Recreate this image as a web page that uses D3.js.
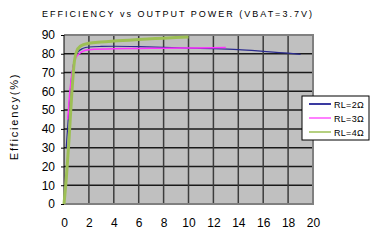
<!DOCTYPE html>
<html>
<head>
<meta charset="utf-8">
<script src="https://cdn.jsdelivr.net/npm/d3@7"></script>
<style>
  body { margin: 0; background: #fff; }
  text { font-family: "Liberation Sans", Arial, sans-serif; }
</style>
</head>
<body>
<div id="chart"></div>
<script>
// data
var xTicks = [0, 2, 4, 6, 8, 10, 12, 14, 16, 18, 20]
var yTicks = [0, 10, 20, 30, 40, 50, 60, 70, 80, 90]
var seriesNames = ['RL=2Ω', 'RL=3Ω', 'RL=4Ω']

var rl2 = [[0.18, 30], [0.35, 46], [0.5, 60], [0.7, 72], [0.9, 78], [1.1, 80.8], [1.5, 82.8], [2, 83.6],
  [3, 83.9], [4, 84], [6, 83.8], [8, 83.4], [10, 83], [12, 82.7], [14, 82.2], [16, 81.3], [18, 80.3], [19, 79.7]]
var rl3 = [[0.3, 45], [0.5, 62], [0.7, 72], [1, 78.5], [1.5, 81.3], [2, 82.2], [4, 82.7],
  [6, 82.8], [8, 83], [10, 83.1], [12, 83.2], [13, 83.3]]
var rl4 = [[0, 0], [0.2, 15], [0.4, 34], [0.6, 56], [0.8, 74], [1, 81], [1.3, 84], [2, 85.6],
  [3, 86.3], [4, 86.8], [6, 87.6], [8, 88.3], [10, 89]]

var colors = ['#2b2b8f', '#ff33ff', '#9dbf55']
var widths = [1.2, 1.5, 3]

var margin = { top: 35, right: 78, bottom: 44, left: 64 }
var width = 391 - margin.left - margin.right
var height = 248 - margin.top - margin.bottom

var x = d3.scaleLinear().domain([0, 20]).range([0, width])
var y = d3.scaleLinear().domain([0, 90]).range([height, 0])

var svg = d3.select('#chart').append('svg')
    .attr('width', 391)
    .attr('height', 248)

// title
svg.append('text')
    .attr('x', 178)
    .attr('y', 17)
    .style('text-anchor', 'middle')
    .style('font-size', '9px')
    .style('letter-spacing', '2px')
    .text('EFFICIENCY vs OUTPUT POWER (VBAT=3.7V)')

// y label
svg.append('text')
    .attr('transform', 'translate(18,' + (margin.top + height / 2 - 3) + ') rotate(-90)')
    .style('text-anchor', 'middle')
    .style('font-size', '11px')
    .style('letter-spacing', '1.8px')
    .text('Efficiency(%)')

var g = svg.append('g')
    .attr('transform', 'translate(' + margin.left + ',' + margin.top + ')')

g.append('rect')
    .attr('width', width)
    .attr('height', height)
    .style('fill', '#c0c0c0')

// grid
g.selectAll('.hgrid').data(yTicks.slice(1))
  .enter().append('line')
    .attr('x1', 0).attr('x2', width)
    .attr('y1', function (d) { return y(d) })
    .attr('y2', function (d) { return y(d) })
    .style('stroke', '#1a1a1a')
    .style('stroke-width', 1.5)
g.selectAll('.vgrid').data(xTicks.slice(1, -1))
  .enter().append('line')
    .attr('y1', 0).attr('y2', height)
    .attr('x1', function (d) { return x(d) })
    .attr('x2', function (d) { return x(d) })
    .style('stroke', '#3c3c3c')
    .style('stroke-width', 1.5)

// frame
g.append('path')
    .attr('d', 'M0,0H' + width + 'V' + height + 'H0')
    .style('fill', 'none')
    .style('stroke', '#808080')
    .style('stroke-width', 2)
g.append('line')
    .attr('x1', 0).attr('x2', 0).attr('y1', 0).attr('y2', height)
    .style('stroke', '#000')

// axes
var yAxis = g.append('g')
    .call(d3.axisLeft(y).tickValues(yTicks).tickSize(3).tickSizeOuter(0).tickPadding(6))
yAxis.select('.domain').remove()
yAxis.selectAll('text').style('font-size', '12px').style('fill', '#000')

var xAxis = g.append('g')
    .attr('transform', 'translate(0,' + height + ')')
    .call(d3.axisBottom(x).tickValues(xTicks).tickSize(0).tickPadding(14))
xAxis.select('.domain').remove()
xAxis.selectAll('text').style('font-size', '12px').style('fill', '#000')

// lines
var line = d3.line()
    .x(function (d) { return x(d[0]) })
    .y(function (d) { return y(d[1]) })
    .curve(d3.curveMonotoneX)

g.selectAll('.series').data([rl2, rl3, rl4])
  .enter().append('path')
    .attr('d', line)
    .style('fill', 'none')
    .style('stroke', function (d, i) { return colors[i] })
    .style('stroke-width', function (d, i) { return widths[i] })

// legend
var legend = svg.append('g').attr('transform', 'translate(302,96)')
legend.append('rect')
    .attr('width', 67)
    .attr('height', 44)
    .style('fill', '#fff')
    .style('stroke', '#000')
legend.selectAll('.item').data(seriesNames)
  .enter().append('g')
    .attr('transform', function (d, i) { return 'translate(0,' + (8 + i * 14) + ')' })
    .each(function (d, i) {
        var item = d3.select(this)
        item.append('line')
            .attr('x1', 7).attr('x2', 29)
            .style('stroke', ['#3a3aa0', '#ff80ff', '#b5d080'][i])
            .style('stroke-width', 2)
        item.append('text')
            .attr('x', 32)
            .attr('y', 3.5)
            .style('font-size', '9px')
            .style('letter-spacing', '0.3px')
            .text(d)
    })
</script>
</body>
</html>
